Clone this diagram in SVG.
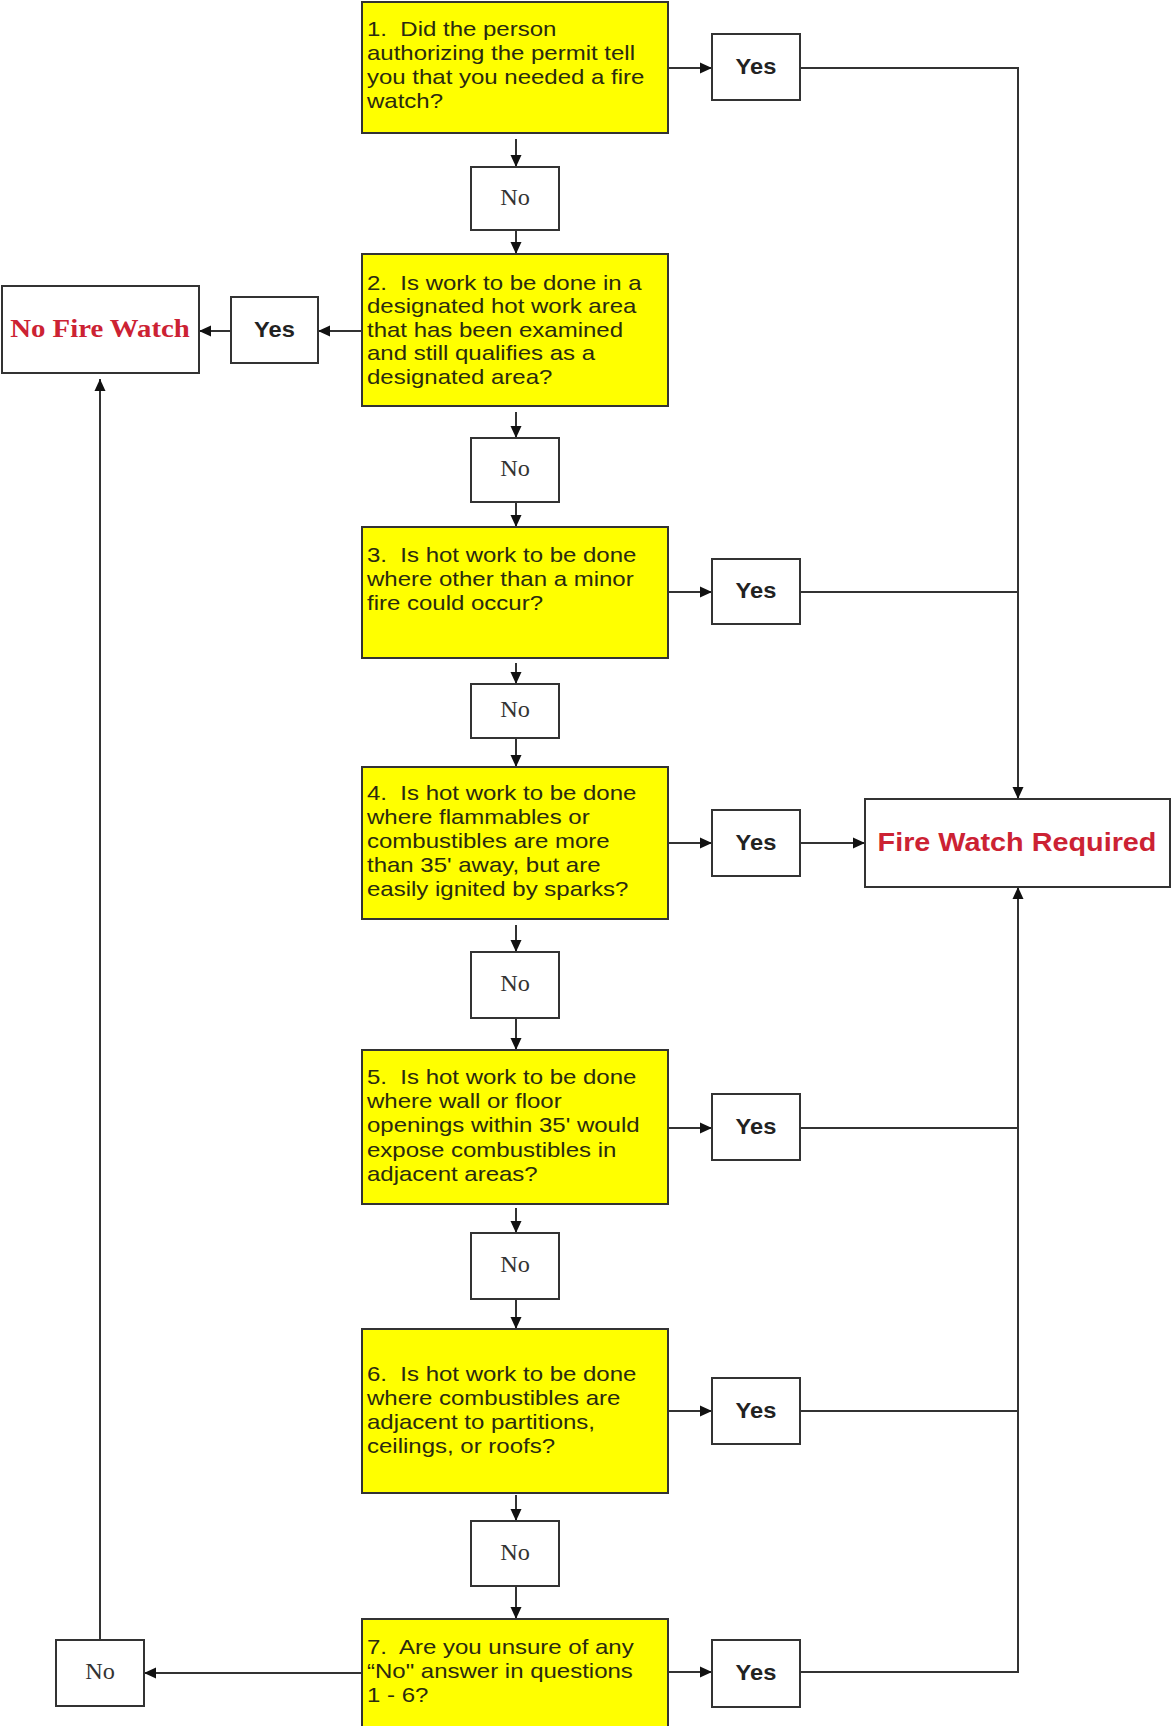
<svg xmlns="http://www.w3.org/2000/svg" width="1171" height="1726" viewBox="0 0 1171 1726">
<style>
.q{fill:#ffff00;stroke:#333;stroke-width:2}
.b{fill:#fff;stroke:#333;stroke-width:2}
.qt{font-family:"Liberation Sans",Arial,sans-serif;font-size:20px;fill:#2a2a10}
.yes{font-family:"Liberation Sans",Arial,sans-serif;font-size:21.5px;font-weight:bold;fill:#222;text-anchor:middle}
.no{font-family:"Liberation Serif","Times New Roman",serif;font-size:22.5px;fill:#333;text-anchor:middle}
.nfw{font-family:"Liberation Serif","Times New Roman",serif;font-size:25.5px;font-weight:bold;fill:#cc2233;text-anchor:middle}
.fwr{font-family:"Liberation Sans",Arial,sans-serif;font-size:25.5px;font-weight:bold;fill:#cc2233;text-anchor:middle}
.c{fill:none;stroke:#333;stroke-width:2}
</style>
<defs>
<marker id="ah" markerUnits="userSpaceOnUse" markerWidth="13" markerHeight="12" refX="12" refY="6" orient="auto">
<path d="M0,0.5 L12,6 L0,11.5 z" fill="#111"/>
</marker>
</defs>
<rect width="1171" height="1726" fill="#fff"/>

<g id="connectors">
<line class="c" x1="516" y1="139" x2="516" y2="167" marker-end="url(#ah)"/>
<line class="c" x1="516" y1="230" x2="516" y2="254" marker-end="url(#ah)"/>
<line class="c" x1="516" y1="412" x2="516" y2="438" marker-end="url(#ah)"/>
<line class="c" x1="516" y1="502" x2="516" y2="527" marker-end="url(#ah)"/>
<line class="c" x1="516" y1="663" x2="516" y2="684" marker-end="url(#ah)"/>
<line class="c" x1="516" y1="738" x2="516" y2="767" marker-end="url(#ah)"/>
<line class="c" x1="516" y1="925" x2="516" y2="952" marker-end="url(#ah)"/>
<line class="c" x1="516" y1="1018" x2="516" y2="1050" marker-end="url(#ah)"/>
<line class="c" x1="516" y1="1208" x2="516" y2="1233" marker-end="url(#ah)"/>
<line class="c" x1="516" y1="1299" x2="516" y2="1329" marker-end="url(#ah)"/>
<line class="c" x1="516" y1="1495" x2="516" y2="1521" marker-end="url(#ah)"/>
<line class="c" x1="516" y1="1586" x2="516" y2="1619" marker-end="url(#ah)"/>
<line class="c" x1="668" y1="68" x2="712" y2="68" marker-end="url(#ah)"/>
<line class="c" x1="362" y1="331" x2="318" y2="331" marker-end="url(#ah)"/>
<line class="c" x1="231" y1="331" x2="199" y2="331" marker-end="url(#ah)"/>
<line class="c" x1="668" y1="592" x2="712" y2="592" marker-end="url(#ah)"/>
<line class="c" x1="668" y1="843" x2="712" y2="843" marker-end="url(#ah)"/>
<line class="c" x1="800" y1="843" x2="865" y2="843" marker-end="url(#ah)"/>
<line class="c" x1="668" y1="1128" x2="712" y2="1128" marker-end="url(#ah)"/>
<line class="c" x1="668" y1="1411" x2="712" y2="1411" marker-end="url(#ah)"/>
<line class="c" x1="668" y1="1672" x2="712" y2="1672" marker-end="url(#ah)"/>
<line class="c" x1="362" y1="1673" x2="144" y2="1673" marker-end="url(#ah)"/>
<line class="c" x1="100" y1="1640" x2="100" y2="379" marker-end="url(#ah)"/>
<path class="c" d="M800,68 H1018 V799" marker-end="url(#ah)"/>
<path class="c" d="M800,592 H1018"/>
<path class="c" d="M800,1128 H1018"/>
<path class="c" d="M800,1411 H1018"/>
<path class="c" d="M800,1672 H1018 V887" marker-end="url(#ah)"/>
</g>

<g id="q1">
<rect class="q" x="362" y="2" width="306" height="131"/>
<text class="qt" transform="translate(367,0) scale(1.2,1)"><tspan x="0" y="36">1.&#160; Did the person</tspan><tspan x="0" y="60">authorizing the permit tell</tspan><tspan x="0" y="84">you that you needed a fire</tspan><tspan x="0" y="108">watch?</tspan></text>
</g>
<g id="yes1"><rect class="b" x="712" y="34" width="88" height="66"/><text class="yes" transform="translate(756,74) scale(1.1,1)">Yes</text></g>
<g id="no1"><rect class="b" x="471" y="167" width="88" height="63"/><text class="no" transform="translate(515,205) scale(1.08,1)">No</text></g>

<g id="q2">
<rect class="q" x="362" y="254" width="306" height="152"/>
<text class="qt" transform="translate(367,0) scale(1.2,1)"><tspan x="0" y="290">2.&#160; Is work to be done in a</tspan><tspan x="0" y="313.5">designated hot work area</tspan><tspan x="0" y="337">that has been examined</tspan><tspan x="0" y="360.5">and still qualifies as a</tspan><tspan x="0" y="384">designated area?</tspan></text>
</g>
<g id="yes2"><rect class="b" x="231" y="297" width="87" height="66"/><text class="yes" transform="translate(274.5,337) scale(1.1,1)">Yes</text></g>
<g id="no-fire-watch"><rect class="b" x="2" y="286" width="197" height="87"/><text class="nfw" transform="translate(100,337) scale(1.13,1)">No Fire Watch</text></g>
<g id="no2"><rect class="b" x="471" y="438" width="88" height="64"/><text class="no" transform="translate(515,476) scale(1.08,1)">No</text></g>

<g id="q3">
<rect class="q" x="362" y="527" width="306" height="131"/>
<text class="qt" transform="translate(367,0) scale(1.2,1)"><tspan x="0" y="562">3.&#160; Is hot work to be done</tspan><tspan x="0" y="586">where other than a minor</tspan><tspan x="0" y="610">fire could occur?</tspan></text>
</g>
<g id="yes3"><rect class="b" x="712" y="559" width="88" height="65"/><text class="yes" transform="translate(756,598) scale(1.1,1)">Yes</text></g>
<g id="no3"><rect class="b" x="471" y="684" width="88" height="54"/><text class="no" transform="translate(515,717) scale(1.08,1)">No</text></g>

<g id="q4">
<rect class="q" x="362" y="767" width="306" height="152"/>
<text class="qt" transform="translate(367,0) scale(1.2,1)"><tspan x="0" y="800">4.&#160; Is hot work to be done</tspan><tspan x="0" y="824">where flammables or</tspan><tspan x="0" y="848">combustibles are more</tspan><tspan x="0" y="872">than 35' away, but are</tspan><tspan x="0" y="896">easily ignited by sparks?</tspan></text>
</g>
<g id="yes4"><rect class="b" x="712" y="810" width="88" height="66"/><text class="yes" transform="translate(756,850) scale(1.1,1)">Yes</text></g>
<g id="fire-watch-required"><rect class="b" x="865" y="799" width="305" height="88"/><text class="fwr" transform="translate(1017,851) scale(1.13,1)">Fire Watch Required</text></g>
<g id="no4"><rect class="b" x="471" y="952" width="88" height="66"/><text class="no" transform="translate(515,991) scale(1.08,1)">No</text></g>

<g id="q5">
<rect class="q" x="362" y="1050" width="306" height="154"/>
<text class="qt" transform="translate(367,0) scale(1.2,1)"><tspan x="0" y="1084">5.&#160; Is hot work to be done</tspan><tspan x="0" y="1108">where wall or floor</tspan><tspan x="0" y="1132">openings within 35' would</tspan><tspan x="0" y="1157">expose combustibles in</tspan><tspan x="0" y="1181">adjacent areas?</tspan></text>
</g>
<g id="yes5"><rect class="b" x="712" y="1094" width="88" height="66"/><text class="yes" transform="translate(756,1134) scale(1.1,1)">Yes</text></g>
<g id="no5"><rect class="b" x="471" y="1233" width="88" height="66"/><text class="no" transform="translate(515,1272) scale(1.08,1)">No</text></g>

<g id="q6">
<rect class="q" x="362" y="1329" width="306" height="164"/>
<text class="qt" transform="translate(367,0) scale(1.2,1)"><tspan x="0" y="1381">6.&#160; Is hot work to be done</tspan><tspan x="0" y="1405">where combustibles are</tspan><tspan x="0" y="1429">adjacent to partitions,</tspan><tspan x="0" y="1453">ceilings, or roofs?</tspan></text>
</g>
<g id="yes6"><rect class="b" x="712" y="1378" width="88" height="66"/><text class="yes" transform="translate(756,1418) scale(1.1,1)">Yes</text></g>
<g id="no6"><rect class="b" x="471" y="1521" width="88" height="65"/><text class="no" transform="translate(515,1560) scale(1.08,1)">No</text></g>

<g id="q7">
<rect class="q" x="362" y="1619" width="306" height="120"/>
<text class="qt" transform="translate(367,0) scale(1.2,1)"><tspan x="0" y="1654">7.&#160; Are you unsure of any</tspan><tspan x="0" y="1678">“No" answer in questions</tspan><tspan x="0" y="1702">1 - 6?</tspan></text>
</g>
<g id="yes7"><rect class="b" x="712" y="1640" width="88" height="67"/><text class="yes" transform="translate(756,1680) scale(1.1,1)">Yes</text></g>
<g id="no7"><rect class="b" x="56" y="1640" width="88" height="66"/><text class="no" transform="translate(100,1679) scale(1.08,1)">No</text></g>
</svg>
